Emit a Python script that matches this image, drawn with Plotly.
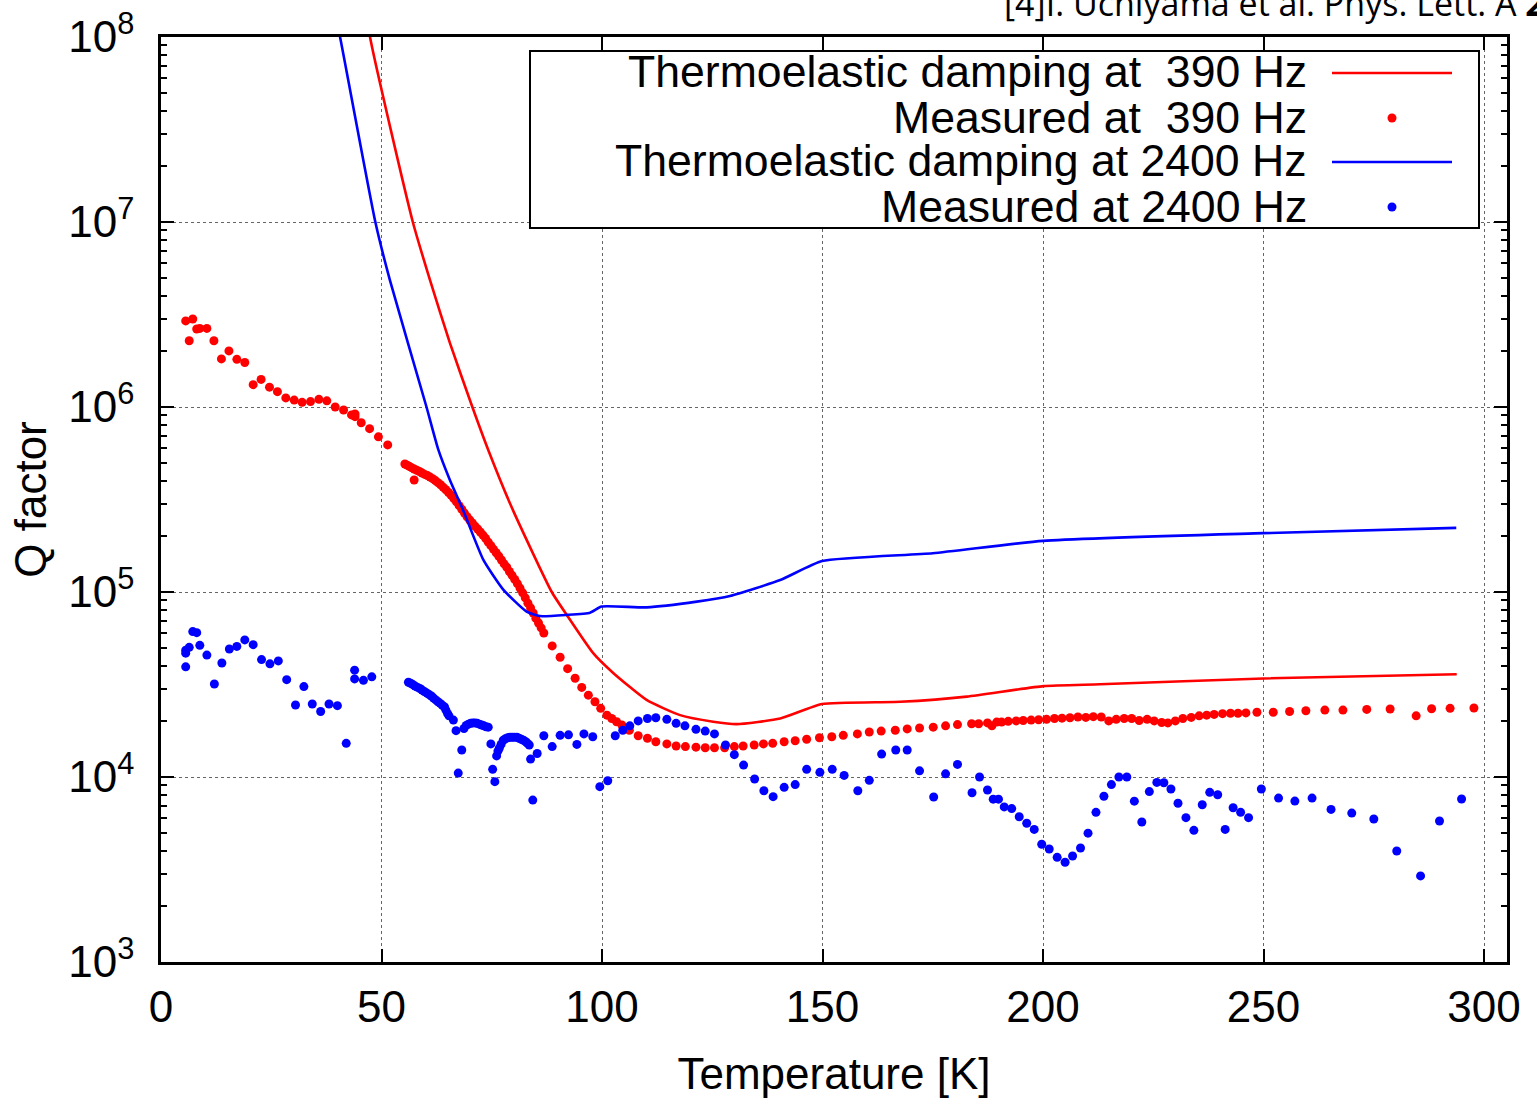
import plotly.graph_objects as go

# ---------------- data ----------------
# Thermoelastic damping, 390 Hz (calculated line)
ted390_T = [45.5, 47.4, 57.1, 61.0, 65.5, 70.6, 74.2, 79.8, 88.6, 92.0, 98.0, 102.6,
            110.1, 117.7, 125.2, 130.5, 140.4, 149.9, 167.6, 182.7, 200.1, 212.9, 250.0, 293.8]
ted390_Q = [2.24e8, 1.0e8, 1.0e7, 4.85e6, 2.22e6, 1.0e6, 5.86e5, 2.77e5, 1.0e5, 7.52e4, 4.67e4, 3.64e4,
            2.61e4, 2.16e4, 1.99e4, 1.93e4, 2.07e4, 2.48e4, 2.55e4, 2.72e4, 3.10e4, 3.17e4, 3.41e4, 3.59e4]

# Thermoelastic damping, 2400 Hz (calculated line)
ted2400_T = [38.0, 40.6, 48.6, 51.9, 60.2, 62.9, 65.5, 68.5, 73.1, 77.6, 82.9, 85.9, 92.0, 97.3,
             99.9, 110.1, 121.5, 129.0, 140.4, 149.9, 175.0, 200.0, 249.9, 293.7]
ted2400_Q = [2.0e8, 1.0e8, 1.0e7, 4.85e6, 1.0e6, 5.86e5, 4.03e5, 2.77e5, 1.49e5, 1.03e5, 7.83e4, 7.41e4, 7.52e4, 7.73e4,
             8.34e4, 8.26e4, 8.87e4, 9.51e4, 1.16e5, 1.47e5, 1.62e5, 1.89e5, 2.08e5, 2.22e5]

# Measured Q, 390 Hz
meas390_T = [5.6, 6.4, 7.2, 8.1, 8.8, 10.4, 12.0, 13.7, 15.4, 17.2, 19.0, 20.9, 22.7, 24.6, 26.4,
             28.3, 30.2, 32.0, 33.9, 35.8, 37.6, 39.5, 41.4, 43.2, 44.0, 44.0, 45.4, 47.3, 49.3, 51.4,
             55.3, 55.8, 56.3, 56.8, 57.4, 57.4, 58.0, 58.6, 59.2, 59.8, 60.4, 61.0, 61.6, 62.2, 62.8,
             63.4, 64.0, 64.6, 65.2, 65.8, 66.4, 67.0, 67.6, 68.2, 68.8, 69.4, 70.0, 70.6, 71.2, 71.8,
             72.4, 73.0, 73.6, 74.2, 74.8, 75.4, 76.0, 76.6, 77.2, 77.8, 78.4, 79.0, 79.6, 80.2, 80.8,
             81.4, 82.0, 82.6, 83.2, 83.8, 84.4, 85.0, 85.6, 86.2, 86.8,
             88.7, 90.5, 92.2, 93.9, 95.4, 96.9, 98.4, 99.7, 101.1, 102.2, 103.3, 104.5, 106.2, 108.2,
             110.3, 112.2, 114.7, 116.8, 118.9, 121.3, 123.4, 125.5, 127.8, 130.0, 132.0, 134.5, 136.6,
             138.7, 141.3, 143.8, 146.4, 149.3, 152.1, 154.7, 157.9, 160.6, 163.3, 166.5, 169.2, 172.0,
             175.1, 177.9, 180.6, 183.8, 185.4, 187.4, 188.4, 189.5, 190.6, 192.1, 193.9, 195.5, 197.3,
             199.0, 200.8, 202.6, 204.3, 206.1, 207.9, 209.7, 211.4, 213.2, 214.9, 216.6, 218.4, 220.1,
             221.8, 223.6, 225.2, 226.9, 228.3, 230.0, 231.7, 233.6, 235.4, 237.1, 238.8, 240.7, 242.5,
             244.2, 246.0, 248.5, 252.2, 255.9, 259.6, 263.9, 268.0, 273.4, 278.7, 284.6, 288.1, 292.3,
             297.7]
meas390_Q = [2.92e6, 2.28e6, 2.99e6, 2.64e6, 2.66e6, 2.66e6, 2.28e6, 1.82e6, 2.01e6, 1.81e6, 1.74e6,
             1.32e6, 1.41e6, 1.28e6, 1.21e6, 1.12e6, 1.09e6, 1.06e6, 1.07e6, 1.10e6, 1.08e6, 1.00e6,
             9.64e5, 9.06e5, 9.16e5, 8.87e5, 8.22e5, 7.64e5, 6.90e5, 6.24e5,
             4.92e5, 4.85e5, 4.78e5, 4.70e5, 4.03e5, 4.62e5, 4.55e5, 4.48e5, 4.40e5, 4.32e5, 4.26e5,
             4.18e5, 4.10e5, 4.00e5, 3.90e5, 3.80e5, 3.68e5, 3.57e5, 3.45e5, 3.33e5, 3.20e5, 3.07e5,
             2.93e5, 2.80e5, 2.67e5, 2.55e5, 2.45e5, 2.36e5, 2.27e5, 2.19e5, 2.11e5, 2.03e5, 1.95e5,
             1.86e5, 1.78e5, 1.70e5, 1.63e5, 1.56e5, 1.49e5, 1.42e5, 1.36e5, 1.29e5, 1.23e5, 1.17e5,
             1.11e5, 1.05e5, 9.9e4, 9.3e4, 8.7e4, 8.2e4, 7.7e4, 7.2e4, 6.8e4, 6.4e4, 6.0e4,
             5.11e4, 4.44e4, 3.85e4, 3.42e4, 3.05e4, 2.77e4, 2.55e4, 2.35e4, 2.16e4, 2.07e4, 1.99e4,
             1.91e4, 1.79e4, 1.67e4, 1.62e4, 1.55e4, 1.51e4, 1.47e4, 1.46e4, 1.45e4, 1.44e4, 1.44e4,
             1.44e4, 1.46e4, 1.47e4, 1.49e4, 1.51e4, 1.52e4, 1.55e4, 1.57e4, 1.60e4, 1.63e4, 1.65e4,
             1.68e4, 1.71e4, 1.75e4, 1.77e4, 1.79e4, 1.82e4, 1.84e4, 1.86e4, 1.89e4, 1.92e4, 1.94e4,
             1.94e4, 1.96e4, 1.89e4, 1.98e4, 1.98e4, 2.00e4, 2.01e4, 2.02e4, 2.03e4, 2.04e4, 2.05e4,
             2.07e4, 2.08e4, 2.09e4, 2.11e4, 2.10e4, 2.12e4, 2.11e4, 2.01e4, 2.05e4, 2.07e4, 2.07e4,
             2.02e4, 2.05e4, 2.01e4, 1.97e4, 1.96e4, 2.01e4, 2.07e4, 2.10e4, 2.14e4, 2.16e4, 2.18e4,
             2.20e4, 2.21e4, 2.21e4, 2.22e4, 2.24e4, 2.24e4, 2.26e4, 2.28e4, 2.30e4, 2.30e4, 2.32e4,
             2.33e4, 2.14e4, 2.34e4, 2.35e4, 2.36e4]

# Measured Q, 2400 Hz
meas2400_T = [5.6, 5.6, 5.6, 6.4, 7.2, 8.1, 8.8, 10.4, 12.1, 13.8, 15.5, 17.2, 19.0, 20.9, 22.8, 24.7,
              26.6, 28.5, 30.5, 32.4, 34.3, 36.2, 38.1, 40.0, 42.0, 43.9, 43.9, 45.9, 47.8,
              56.1, 56.6, 57.1, 57.6, 58.1, 58.7, 59.2, 59.7, 60.3, 60.8, 61.3, 61.8, 62.3, 62.8, 63.3,
              63.8, 64.3, 64.6, 65.0, 65.3, 66.3, 66.9, 67.4, 68.2, 68.7, 69.2, 69.7, 70.2, 70.7, 71.2,
              71.7, 72.2, 72.7, 73.2, 73.7, 74.2, 74.8, 75.2, 75.7, 76.1, 76.4, 76.7, 77.1, 77.6, 78.1,
              78.6, 79.1, 79.6, 80.1, 80.7, 81.2, 81.7, 82.2, 82.7, 83.1, 83.5, 83.8, 84.3, 85.3, 86.8,
              88.7, 90.5, 92.4, 94.3, 95.9, 97.9, 99.5, 101.3, 103.0, 104.7, 106.3, 108.2, 110.3, 112.2,
              114.7, 116.8, 118.8, 121.3, 123.4, 125.5, 128.0, 130.0, 132.1, 134.6, 136.7, 138.8, 141.3,
              143.8, 146.4, 149.4, 152.2, 154.9, 158.0, 160.6, 163.4, 166.6, 169.2, 172.0, 175.2, 177.9,
              180.6, 183.9, 185.6, 187.4, 188.7, 189.9, 191.2, 192.9, 194.6, 196.3, 198.0, 199.7, 201.4,
              203.2, 205.0, 206.7, 208.5, 210.2, 212.0, 213.8, 215.5, 217.2, 219.0, 220.7, 222.4, 224.1,
              225.8, 227.4, 229.0, 230.6, 232.4, 234.2, 236.1, 237.8, 239.6, 241.3, 243.1, 244.8, 246.6,
              249.5, 253.4, 257.1, 261.0, 265.3, 270.0, 275.0, 280.2, 285.6, 289.9, 294.9]
meas2400_Q = [4.85e4, 4.67e4, 3.94e4, 5.02e4, 6.11e4, 6.03e4, 5.15e4, 4.56e4, 3.18e4, 4.13e4, 4.92e4,
              5.08e4, 5.51e4, 5.19e4, 4.31e4, 4.09e4, 4.24e4, 3.36e4, 2.45e4, 3.08e4, 2.48e4, 2.26e4,
              2.48e4, 2.43e4, 1.52e4, 3.78e4, 3.39e4, 3.33e4, 3.48e4,
              3.25e4, 3.21e4, 3.16e4, 3.10e4, 3.06e4, 3.01e4, 2.95e4, 2.90e4, 2.84e4, 2.79e4, 2.74e4,
              2.67e4, 2.61e4, 2.55e4, 2.50e4, 2.44e4, 2.39e4, 2.30e4, 2.20e4, 2.14e4, 2.03e4, 1.78e4,
              1.05e4, 1.40e4, 1.83e4, 1.90e4, 1.93e4, 1.95e4, 1.96e4, 1.96e4, 1.95e4, 1.93e4, 1.91e4,
              1.89e4, 1.87e4, 1.86e4, 1.51e4, 1.10e4, 9.44e3, 1.30e4, 1.38e4, 1.43e4, 1.50e4, 1.58e4,
              1.61e4, 1.63e4, 1.64e4, 1.64e4, 1.64e4, 1.64e4, 1.62e4, 1.60e4, 1.58e4, 1.55e4, 1.52e4,
              1.49e4, 1.25e4, 7.5e3, 1.34e4, 1.67e4,
              1.46e4, 1.68e4, 1.69e4, 1.50e4, 1.71e4, 1.65e4, 8.87e3, 9.55e3, 1.67e4, 1.79e4, 1.89e4,
              2.01e4, 2.07e4, 2.09e4, 2.05e4, 1.95e4, 1.89e4, 1.81e4, 1.77e4, 1.71e4, 1.49e4, 1.32e4,
              1.16e4, 9.75e3, 8.43e3, 7.83e3, 8.79e3, 9.10e3, 1.10e4, 1.06e4, 1.10e4, 1.02e4, 8.43e3,
              9.59e3, 1.33e4, 1.40e4, 1.40e4, 1.08e4, 7.80e3, 1.04e4, 1.17e4, 8.22e3, 1.00e4, 8.51e3,
              7.59e3, 7.59e3, 6.89e3, 6.75e3, 6.10e3, 5.62e3, 5.21e3, 4.33e3, 4.08e3, 3.68e3, 3.46e3,
              3.74e3, 4.13e3, 4.97e3, 6.44e3, 7.87e3, 9.10e3, 1.00e4, 1.00e4, 7.40e3, 5.71e3, 8.34e3,
              9.35e3, 9.31e3, 8.61e3, 7.21e3, 6.03e3, 5.15e3, 7.08e3, 8.26e3, 8.02e3, 5.21e3, 6.82e3,
              6.44e3, 6.03e3, 8.61e3, 7.69e3, 7.41e3, 7.69e3, 6.68e3, 6.38e3, 5.93e3, 3.98e3, 2.92e3,
              5.78e3, 7.60e3]

x_ticks = [0, 50, 100, 150, 200, 250, 300]
y_ticks = [1e3, 1e4, 1e5, 1e6, 1e7, 1e8]
y_ticktext = ["10<sup>3</sup>", "10<sup>4</sup>", "10<sup>5</sup>", "10<sup>6</sup>",
              "10<sup>7</sup>", "10<sup>8</sup>"]
legend_labels = ["Thermoelastic damping at  390 Hz", "Measured at  390 Hz",
                 "Thermoelastic damping at 2400 Hz", "Measured at 2400 Hz"]
citation = "[4]I. Uchiyama et al. Phys. Lett. A <b>273</b> (2000) 310"

# ---------------- styling ----------------
RED = "#ff0000"
BLUE = "#0000ff"
FONT = "Liberation Sans, Arial, sans-serif"
W, H = 1537, 1099
ML, MR, MT, MB = 161, 30, 37, 137
PW, PH = W - ML - MR, H - MT - MB


def px_to_paper(px, py):
    return (px - ML) / PW, (H - MB - py) / PH


fig = go.Figure()
fig.add_trace(go.Scatter(x=ted390_T, y=ted390_Q, mode="lines",
                         line=dict(color=RED, width=2.6, shape="spline", smoothing=0.5),
                         showlegend=False))
fig.add_trace(go.Scatter(x=meas390_T, y=meas390_Q, mode="markers",
                         marker=dict(color=RED, size=9, line=dict(width=0)), showlegend=False))
fig.add_trace(go.Scatter(x=ted2400_T, y=ted2400_Q, mode="lines",
                         line=dict(color=BLUE, width=2.6, shape="spline", smoothing=0.5),
                         showlegend=False))
fig.add_trace(go.Scatter(x=meas2400_T, y=meas2400_Q, mode="markers",
                         marker=dict(color=BLUE, size=9, line=dict(width=0)), showlegend=False))

# ---------- custom legend box (text right-aligned, keys on the right) ----------
shapes = []
annotations = []
bx0, by0 = px_to_paper(530, 228)
bx1, by1 = px_to_paper(1479, 51)
shapes.append(dict(type="rect", xref="paper", yref="paper", x0=bx0, y0=by0, x1=bx1, y1=by1,
                   line=dict(color="black", width=2), fillcolor="white", layer="above"))
row_py = [72, 117, 161, 206]
key_py = [73, 118, 162, 207]
key_colors = [RED, RED, BLUE, BLUE]
key_is_line = [True, False, True, False]
tx, _ = px_to_paper(1309, 0)
lx0, _ = px_to_paper(1332, 0)
lx1, _ = px_to_paper(1452, 0)
dx, _ = px_to_paper(1392, 0)
rx = 4.5 / PW
ry = 4.5 / PH
for lab, py, kpy, col, isl in zip(legend_labels, row_py, key_py, key_colors, key_is_line):
    _, yy = px_to_paper(0, py)
    _, ky = px_to_paper(0, kpy)
    annotations.append(dict(text=lab, x=tx, y=yy, xref="paper", yref="paper",
                            xanchor="right", yanchor="middle", showarrow=False,
                            font=dict(family=FONT, size=44.6, color="black")))
    if isl:
        shapes.append(dict(type="line", xref="paper", yref="paper", x0=lx0, x1=lx1, y0=ky, y1=ky,
                           line=dict(color=col, width=2.6), layer="above"))
    else:
        shapes.append(dict(type="circle", xref="paper", yref="paper", x0=dx - rx, x1=dx + rx,
                           y0=ky - ry, y1=ky + ry, fillcolor=col, line=dict(width=0), layer="above"))

# citation at the very top (cut by the page edge in the reference)
cx, cy = px_to_paper(1002, 27.5)
annotations.append(dict(text=citation, x=cx, y=cy, xref="paper", yref="paper",
                        xanchor="left", yanchor="bottom", showarrow=False,
                        font=dict(family="Open Sans, sans-serif", size=34, color="black")))

axis_common = dict(
    ticks="inside", tickwidth=2, tickcolor="black",
    showline=True, linecolor="black", linewidth=2.5, mirror="ticks",
    showgrid=True, gridcolor="#666666", gridwidth=1.2, griddash="dot",
    zeroline=False, automargin=False,
    tickfont=dict(family=FONT, size=44, color="black"),
)

fig.update_layout(
    width=W, height=H, autosize=False,
    margin=dict(l=ML, r=MR, t=MT, b=MB, pad=0),
    paper_bgcolor="white", plot_bgcolor="white",
    font=dict(family=FONT, color="black"),
    shapes=shapes, annotations=annotations,
    xaxis=dict(range=[0, 305.2], tickvals=x_ticks, ticklen=13,
               title=dict(text="Temperature [K]", font=dict(family=FONT, size=44), standoff=29),
               ticklabelstandoff=4, **axis_common),
    yaxis=dict(type="log", range=[3, 8], tickvals=y_ticks, ticktext=y_ticktext, ticklen=13,
               minor=dict(ticks="inside", ticklen=6, tickwidth=2, tickcolor="black",
                          dtick="D1", showgrid=False),
               title=dict(text="Q factor", font=dict(family=FONT, size=44), standoff=8),
               ticklabelstandoff=15, **axis_common),
)

fig.write_html("out.html")
